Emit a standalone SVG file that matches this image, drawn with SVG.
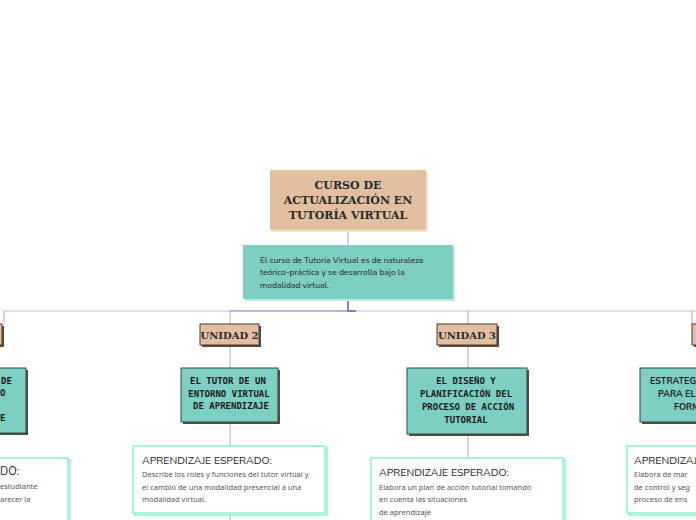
<svg xmlns="http://www.w3.org/2000/svg" width="696" height="520" viewBox="0 0 696 520">
<style>
.tan{fill:#e2bfa1;stroke:#4a3a30;stroke-width:1}
.sh{fill:#5a4a40}
.teal{fill:#7ecfc3;stroke:#2f4a45;stroke-width:1}
.ap{fill:#fff;stroke:#8ef0cf;stroke-width:1.5}
.ser{font-family:"DejaVu Serif","Liberation Serif",serif;font-weight:bold;fill:#2a2a2a}
.mono{font-family:"DejaVu Sans Mono","Liberation Mono",monospace;font-weight:bold;font-size:9px;fill:#1a1a1a}
.sans{font-family:"Nunito","Noto Sans","Liberation Sans",sans-serif;fill:#222}
.small{font-family:"Noto Sans","Liberation Sans",sans-serif;font-size:7.5px;fill:#555}
.ln{stroke:#c9b3dc;stroke-width:1.2;fill:none}
</style>
<rect width="696" height="520" fill="#fff"/>
<g id="connectors">
<path class="ln" d="M348 230V245M4 324V311H696M230 311V324M468 311V324M692 311V324M230 345V368M468 345V368M230 422V446M468 434V458M230 513V520"/>
<path d="M230 311H348" stroke="#a58cc8" stroke-width="1.2" fill="none"/>
<path d="M348 299V311H356" stroke="#7a55b0" stroke-width="1.5" fill="none"/>
</g>
<g id="title"><rect x="272" y="172" width="156" height="60" fill="#f3e4d8"/><rect x="270" y="170" width="156" height="60" fill="#e2bfa1"/>
<text class="ser" font-size="11" text-anchor="middle"><tspan x="348" y="189">CURSO DE</tspan><tspan x="348" y="204">ACTUALIZACIÓN EN</tspan><tspan x="348" y="219">TUTORÍA VIRTUAL</tspan></text></g>
<g id="desc"><rect x="245" y="247" width="210" height="54" fill="#bfeae2"/><rect x="243" y="245" width="210" height="54" fill="#7ecfc3"/>
<text class="sans" font-size="8.5"><tspan x="260" y="263">El curso de Tutoría Virtual es de naturaleza</tspan><tspan x="260" y="275">teórico-práctica y se desarrolla bajo la</tspan><tspan x="260" y="288">modalidad virtual.</tspan></text></g>
<g id="u1"><rect x="-54" y="326" width="58" height="21" class="sh"/><rect x="-56" y="324" width="58" height="21" class="tan"/></g>
<g id="u2"><rect x="202" y="326" width="59" height="21" class="sh"/><rect x="200" y="324" width="59" height="21" class="tan"/><text class="ser" font-size="10" x="229.5" y="338.5" text-anchor="middle">UNIDAD 2</text></g>
<g id="u3"><rect x="439" y="326" width="60" height="21" class="sh"/><rect x="437" y="324" width="60" height="21" class="tan"/><text class="ser" font-size="10" x="467" y="338.5" text-anchor="middle">UNIDAD 3</text></g>
<g id="u4"><rect x="694" y="326" width="60" height="21" class="sh"/><rect x="692" y="324" width="60" height="21" class="tan"/></g>
<g id="t1"><rect x="-70" y="370" width="98" height="65" class="sh"/><rect x="-72" y="368" width="98" height="65" class="teal"/>
<text class="mono"><tspan x="1" y="384">DE</tspan><tspan x="0" y="396">O</tspan><tspan x="0" y="421">E</tspan></text></g>
<g id="t2"><rect x="183" y="370" width="97" height="54" class="sh"/><rect x="181" y="368" width="97" height="54" class="teal"/>
<text class="mono" text-anchor="middle"><tspan x="228" y="384">EL TUTOR DE UN</tspan><tspan x="229" y="397">ENTORNO VIRTUAL</tspan><tspan x="231" y="409">DE APRENDIZAJE</tspan></text></g>
<g id="t3"><rect x="409" y="370" width="120" height="66" class="sh"/><rect x="407" y="368" width="120" height="66" class="teal"/>
<text class="mono" text-anchor="middle"><tspan x="466" y="384">EL DISEÑO Y</tspan><tspan x="466" y="397">PLANIFICACIÓN DEL</tspan><tspan x="468" y="410">PROCESO DE ACCIÓN</tspan><tspan x="466" y="423">TUTORIAL</tspan></text></g>
<g id="t4"><rect x="642" y="370" width="100" height="54" class="sh"/><rect x="640" y="368" width="100" height="54" class="teal"/>
<text class="sans" font-size="9" font-weight="bold"><tspan x="650" y="384">ESTRATEG</tspan><tspan x="658" y="397">PARA EL</tspan><tspan x="674" y="410">FORM</tspan></text></g>
<g id="a1"><rect x="-120" y="460" width="190" height="67" class="ap"/><rect x="-122" y="458" width="190" height="67" class="ap"/>
<text class="sans" font-size="11"><tspan x="0" y="475">DO:</tspan></text><text class="small"><tspan x="0" y="489">estudiante</tspan><tspan x="0" y="502">arecer la</tspan></text></g>
<g id="a2"><rect x="135" y="448" width="192" height="67" class="ap"/><rect x="133" y="446" width="192" height="67" class="ap"/>
<text class="sans" font-size="10.5" x="142" y="464">APRENDIZAJE ESPERADO:</text>
<text class="small"><tspan x="142" y="477">Describe los roles y funciones del tutor virtual y</tspan><tspan x="142" y="490">el cambio de una modalidad presencial a una</tspan><tspan x="142" y="502">modalidad virtual.</tspan></text></g>
<g id="a3"><rect x="373" y="460" width="192" height="67" class="ap"/><rect x="371" y="458" width="192" height="67" class="ap"/>
<text class="sans" font-size="10.5" x="379" y="476">APRENDIZAJE ESPERADO:</text>
<text class="small" font-size="8"><tspan x="379" y="490">Elabora un plan de acción tutorial tomando</tspan><tspan x="379" y="502">en cuenta las situaciones</tspan><tspan x="379" y="515">de aprendizaje</tspan></text></g>
<g id="a4"><rect x="629" y="448" width="192" height="67" class="ap"/><rect x="627" y="446" width="192" height="67" class="ap"/>
<text class="sans" font-size="10.5" x="634" y="464">APRENDIZAJE</text>
<text class="small" font-size="8"><tspan x="634" y="477">Elabora de mar</tspan><tspan x="634" y="490">de control y seg</tspan><tspan x="634" y="502">proceso de ens</tspan></text></g>
</svg>
